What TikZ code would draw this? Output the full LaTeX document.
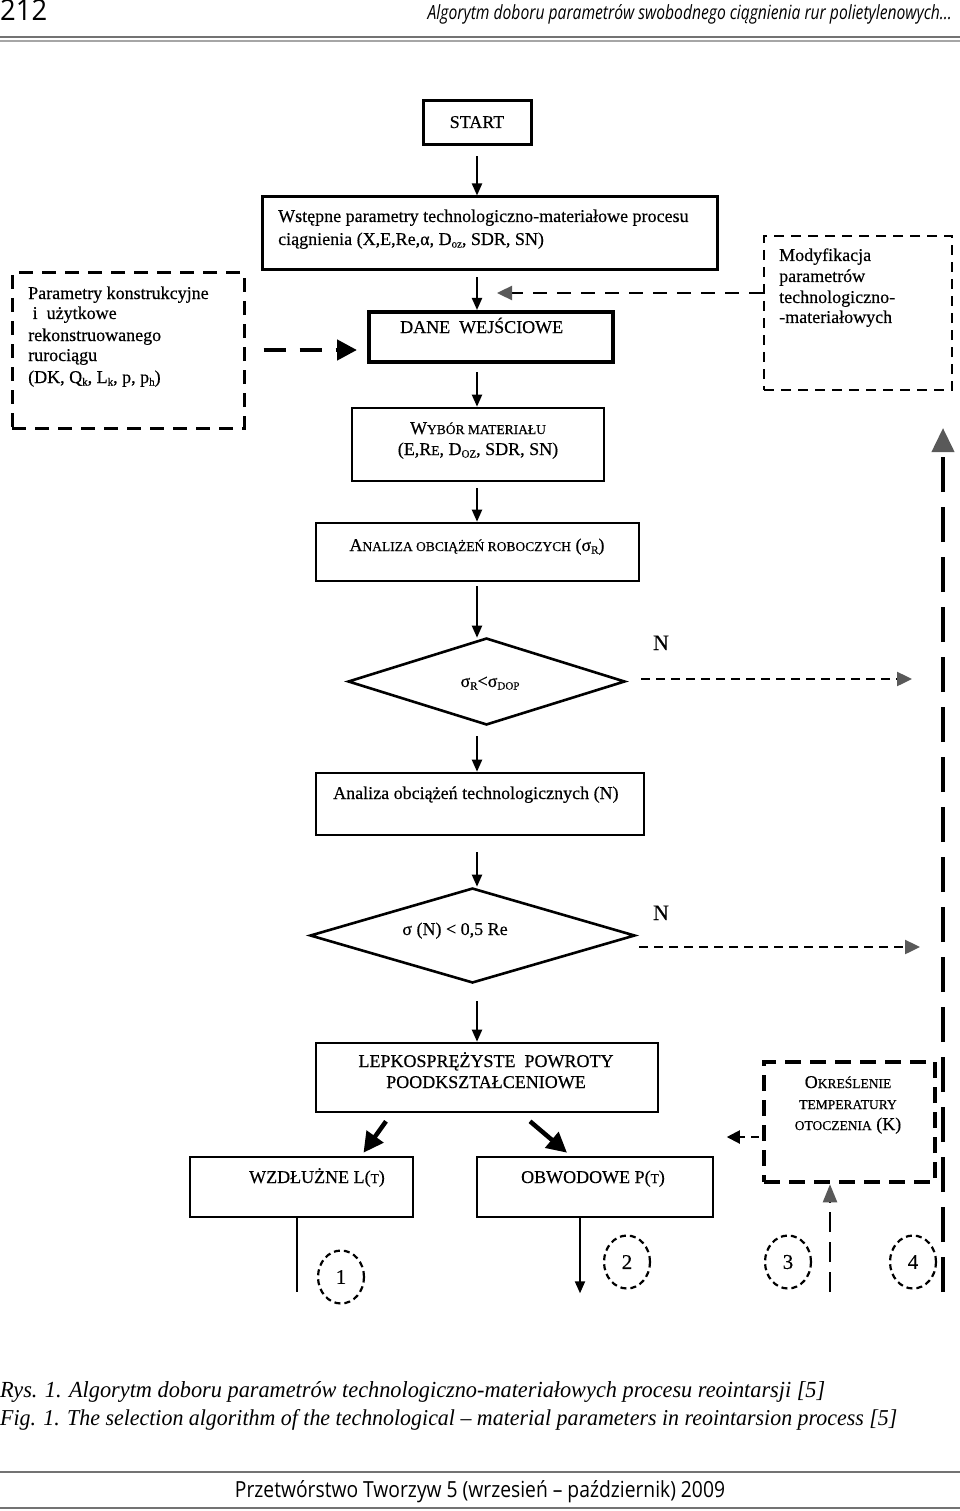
\documentclass[tikz,border=0pt]{standalone}
\usepackage{fontspec}
\setmainfont{Liberation Serif}
\newfontfamily\flfont{Liberation Serif}[FakeBold=0.4]
\newfontfamily\hdfont{Open Sans}
\usetikzlibrary{arrows.meta,shapes.geometric,calc}
\newcommand\smc[1]{{\fontsize{13.5pt}{15pt}\selectfont #1}}
\newcommand\subsc[1]{\raisebox{-2.5pt}{\fontsize{11pt}{12pt}\selectfont #1}}
\tikzset{
  box/.style={draw, line width=2.6pt, inner sep=0pt},
  dbox/.style={draw, line width=3pt, dash pattern=on 14pt off 9pt, inner sep=0pt},
  lbl/.style={inner sep=0pt, font=\flfont\fontsize{18pt}{20pt}\selectfont},
  arr/.style={line width=2pt, -{Triangle[length=12pt,width=10pt]}},
  bigarr/.style={line width=4.5pt, -{Triangle[length=20pt,width=20pt]}},
  greytip/.style={-{Triangle[length=15pt,width=14pt,fill=black!65,color=black!65]}},
  circ/.style={draw, ellipse, line width=2.2pt, dash pattern=on 6pt off 4pt, minimum width=46pt, minimum height=53pt, inner sep=0pt, font=\flfont\fontsize{21pt}{22pt}\selectfont},
}
\begin{document}
\begin{tikzpicture}[x=1pt,y=-1pt]
\useasboundingbox[fill=white] (0,0) rectangle (960,1511);

% header
\node[inner sep=0pt, anchor=base west] (pnum) at (0,21) {\resizebox{47pt}{21pt}{\hdfont 212}};
\node[inner sep=0pt, anchor=base east] (htitle) at (952,20) {\resizebox{524pt}{15pt}{\hdfont\itshape Algorytm doboru parametrów swobodnego ciągnienia rur polietylenowych...}};
\draw[black!55, line width=1.5pt] (0,37) -- (960,37);
\draw[black!35, line width=1.5pt] (0,41) -- (960,41);

\coordinate (col) at (477,0);

% boxes
\node[box, line width=3pt, minimum width=108pt, minimum height=44pt] (start) at (477,123) {};
\node[box, line width=3pt, minimum width=455pt, minimum height=73pt] (wst) at (489.5,233.5) {};
\node[box, line width=4pt, minimum width=244pt, minimum height=50pt] (dane) at (491,337) {};
\node[dbox, minimum width=232pt, minimum height=155pt] (left) at (128,350.5) {};
\node[draw, line width=2.6pt, dash pattern=on 10pt off 7pt, inner sep=0pt, minimum width=188pt, minimum height=154pt] (mod) at (858,313) {};
\node[box, minimum width=252pt, minimum height=73pt] (wyb) at (478,444.5) {};
\node[box, minimum width=323pt, minimum height=58pt] (anR) at (477.5,552) {};
\node[draw, diamond, line width=2.6pt, inner sep=0pt, minimum width=277pt, minimum height=87pt] (d1) at (486.5,681.5) {};
\node[box, minimum width=328pt, minimum height=62pt] (anN) at (480,804) {};
\node[draw, diamond, line width=2.6pt, inner sep=0pt, minimum width=325pt, minimum height=95pt] (d2) at (472.5,935.5) {};
\node[box, minimum width=342pt, minimum height=69pt] (lep) at (487,1077.5) {};
\node[box, minimum width=223pt, minimum height=60pt] (wzd) at (301.5,1187) {};
\node[box, minimum width=236pt, minimum height=60pt] (obw) at (595,1187) {};
\node[draw, line width=4.5pt, dash pattern=on 16pt off 9pt, inner sep=0pt, minimum width=171pt, minimum height=120pt] (kbox) at (849.5,1122) {};

% texts
\node[lbl, anchor=base] (tstart) at (477,128) {START};
\node[lbl, anchor=base west] (tw1) at (278,222) {Wstępne parametry technologiczno-materiałowe procesu};
\node[lbl, anchor=base west] (tw2) at (278,245) {ciągnienia (X,E,Re,α, D\subsc{oz}, SDR, SN)};
\node[lbl, anchor=base west] (tdane) at (400,333) {DANE\ \ WEJŚCIOWE};
\node[lbl, anchor=base west] (tl1) at (28,299) {Parametry konstrukcyjne};
\node[lbl, anchor=base west] (tl2) at (28,319) {\ i\ \ użytkowe};
\node[lbl, anchor=base west] (tl3) at (28,341) {rekonstruowanego};
\node[lbl, anchor=base west] (tl4) at (28,361) {rurociągu};
\node[lbl, anchor=base west] (tl5) at (28,383) {(DK, Q\subsc{k}, L\subsc{k}, p, p\subsc{h})};
\node[lbl, anchor=base west] (tm1) at (779,261) {Modyfikacja};
\node[lbl, anchor=base west] (tm2) at (779,282) {parametrów};
\node[lbl, anchor=base west] (tm3) at (779,303) {technologiczno-};
\node[lbl, anchor=base west] (tm4) at (779,323) {-materiałowych};
\node[lbl, anchor=base] (twy1) at (478,434) {W\smc{YBÓR MATERIAŁU}};
\node[lbl, anchor=base] (twy2) at (478,455) {(E,R\smc{E}, D\subsc{OZ}, SDR, SN)};
\node[lbl, anchor=base] (tanR) at (477,551) {A\smc{NALIZA OBCIĄŻEŃ ROBOCZYCH} (σ\subsc{R})};
\node[lbl, anchor=base] (td1) at (490,687) {σ\subsc{R}<σ\subsc{DOP}};
\node[lbl, anchor=base west] (tanN) at (333,799) {Analiza obciążeń technologicznych (N)};
\node[lbl, anchor=base] (td2) at (455,935) {σ (N) < 0,5 Re};
\node[lbl, anchor=base] (tlep1) at (486,1067) {LEPKOSPRĘŻYSTE\ \ POWROTY};
\node[lbl, anchor=base] (tlep2) at (486,1088) {POODKSZTAŁCENIOWE};
\node[lbl, anchor=base] (twzd) at (317,1183) {WZDŁUŻNE L(\smc{T})};
\node[lbl, anchor=base] (tobw) at (593,1183) {OBWODOWE P(\smc{T})};
\node[lbl, anchor=base] (tk1) at (848,1088) {O\smc{KREŚLENIE}};
\node[lbl, anchor=base] (tk2) at (848,1109) {\smc{TEMPERATURY}};
\node[lbl, anchor=base] (tk3) at (848,1130) {\smc{OTOCZENIA} (K)};
\node[inner sep=0pt, anchor=base, font=\flfont\fontsize{22pt}{24pt}\selectfont] (n1) at (661,650) {N};
\node[inner sep=0pt, anchor=base, font=\flfont\fontsize{22pt}{24pt}\selectfont] (n2) at (661,920) {N};

% circles
\node[circ] (c1) at (341,1277) {1};
\node[circ] (c2) at (627,1262) {2};
\node[circ] (c3) at (788,1262) {3};
\node[circ] (c4) at (913,1262) {4};

% connectors main column
\draw[arr] ($(start.south)+(0,10)$) -- (col |- wst.north);
\draw[arr] ($(col |- wst.south)+(0,6)$) -- (col |- dane.north);
\draw[arr] ($(col |- dane.south)+(0,8)$) -- (col |- wyb.north);
\draw[arr] ($(col |- wyb.south)+(0,6)$) -- (col |- anR.north);
\draw[arr] ($(col |- anR.south)+(0,4)$) -- ($(col |- d1.north)+(0,1)$);
\draw[arr] ($(col |- d1.south)+(0,10)$) -- (col |- anN.north);
\draw[arr] ($(col |- anN.south)+(0,16)$) -- (col |- d2.north);
\draw[arr] ($(col |- d2.south)+(0,17)$) -- (col |- lep.north);

% side inputs
\coordinate (lfrom) at ($(left.east |- dane.west)+(18,13)$);
\draw[bigarr, dash pattern=on 22pt off 14pt] (lfrom) -- ($(dane.west)+(-10,13)$);
\coordinate (mfrom) at ($(mod.west)+(0,-20)$);
\draw[line width=2.4pt, dash pattern=on 14pt off 10pt, greytip] (mfrom) -- (mfrom -| 497,0);

% N outputs
\coordinate (rl) at (943,0);
\draw[line width=2.4pt, dash pattern=on 9pt off 6pt, greytip] ($(d1.east)+(15,-2.5)$) -- ($(rl |- d1.east)+(-31,-2.5)$);
\draw[line width=2.4pt, dash pattern=on 9pt off 6pt, greytip] ($(d2.east)+(3,11.5)$) -- ($(rl |- d2.east)+(-23,11.5)$);

% long return line
\coordinate (rbot) at (943,1292);
\draw[line width=4pt, dash pattern=on 35pt off 15pt, -{Triangle[length=24pt,width=22pt,fill=black!65,color=black!65]}] (rbot) -- (943,428);

% bottom
\draw[bigarr] ($(lep.south)+(-101,8)$) -- ($(wzd.north)+(62,-3)$);
\draw[bigarr] ($(lep.south)+(43,8)$) -- ($(obw.north)+(-28,-3)$);
\draw[line width=2pt, dash pattern=on 8pt off 6pt, -{Triangle[length=13pt,width=13pt]}] ($(kbox.west)+(-3,15)$) -- ($(kbox.west)+(-35,15)$);
\draw[line width=2pt] ($(wzd.south)+(-4.5,0)$) -- ++(0,74);
\draw[arr] ($(obw.south)+(-15,0)$) -- ++(0,75);
\draw[line width=2.2pt, dash pattern=on 20pt off 10pt, -{Triangle[length=18pt,width=14pt,fill=black!65,color=black!65]}] (830,1292) -- (kbox.south -| 830,0);

% caption
\node[inner sep=0pt, anchor=base west] (cap1) at (0,1397) {\resizebox{825pt}{16pt}{\itshape Rys. 1. Algorytm doboru parametrów technologiczno-materiałowych procesu reointarsji [5]}};
\node[inner sep=0pt, anchor=base west] (cap2) at (0,1425) {\resizebox{897pt}{16pt}{\itshape Fig. 1. The selection algorithm of the technological – material parameters in reointarsion process [5]}};

% footer
\draw[black!55, line width=1.5pt] (0,1472) -- (960,1472);
\node[inner sep=0pt, anchor=base] (foot) at (480,1497) {\resizebox{490pt}{17pt}{\hdfont Przetwórstwo Tworzyw 5 (wrzesień – październik) 2009}};
\draw[black!55, line width=1.5pt] (0,1508) -- (960,1508);
\end{tikzpicture}
\end{document}
